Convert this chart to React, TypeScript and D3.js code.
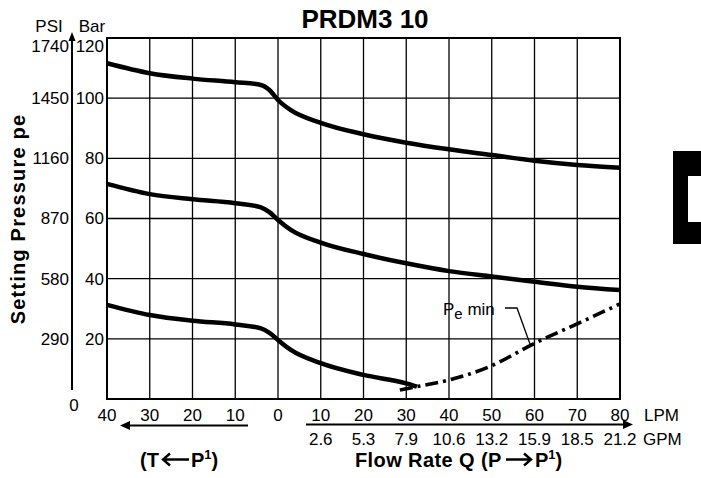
import React from 'react';
import * as d3 from 'd3';

// ---- data ----
const flowTicks = [-40, -30, -20, -10, 0, 10, 20, 30, 40, 50, 60, 70, 80];
const gpmFlows = [10, 20, 30, 40, 50, 60, 70, 80];
const gpmLabels = ['2.6', '5.3', '7.9', '10.6', '13.2', '15.9', '18.5', '21.2'];
const barTicks = [20, 40, 60, 80, 100, 120];
const psiLabels = ['290', '580', '870', '1160', '1450', '1740'];

const curveFlow = [-40, -30, -20, -10, -4, -2, 0, 3, 10, 20, 30, 40, 50, 60, 70, 80];
const topCurve = [111.6, 108.3, 106.5, 105.3, 104.4, 102.7, 99.4, 96.0, 91.8, 88.0, 85.2, 83.0, 81.1, 79.2, 77.8, 76.9];
const midCurve = [71.5, 68.1, 66.4, 65.1, 63.7, 62.1, 59.5, 56.2, 52.0, 48.2, 45.1, 42.5, 40.7, 39.0, 37.3, 36.2];
const lowFlow = [-40, -30, -20, -10, -4, -2, 0, 3, 10, 20, 30, 32.5];
const lowCurve = [31.3, 27.9, 26.0, 24.8, 23.5, 22.0, 19.6, 16.3, 11.9, 8.0, 5.2, 4.1];
const peMinFlow = [28.5, 32, 34.4, 40, 50, 60, 70, 80];
const peMinVals = [3.0, 4.0, 4.65, 6.3, 11.1, 18.5, 25.0, 31.6];

const FONT = "'Liberation Sans', Arial, Helvetica, sans-serif";

export default function App() {
  const W = 701, H = 478;
  const left = 107, right = 620, top = 38, bottom = 399;
  const x = d3.scaleLinear().domain([-40, 80]).range([left, right]);
  const y = d3.scaleLinear().domain([0, 120]).range([bottom, top]);

  const line = d3.line<[number, number]>()
    .x(d => x(d[0]))
    .y(d => y(d[1]))
    .curve(d3.curveMonotoneX);

  const zip = (xs: number[], ys: number[]) => xs.map((v, i) => [v, ys[i]] as [number, number]);

  const psiX = 72;
  const fs = 17;

  return (
    <svg width={W} height={H} style={{ position: 'absolute', left: 0, top: 0, background: '#fff' }}
      fontFamily={FONT}>
      <rect width={W} height={H} fill="#fff" />
      {/* title */}
      <text x={365} y={28} textAnchor="middle" fontSize={26} fontWeight="bold">PRDM3 10</text>

      {/* grid */}
      {flowTicks.map(t => (
        <line key={'vx' + t} x1={x(t)} x2={x(t)} y1={top} y2={bottom} stroke="#000" strokeWidth={1.3} />
      ))}
      {barTicks.map(t => (
        <line key={'hy' + t} x1={left} x2={right} y1={y(t)} y2={y(t)} stroke="#000" strokeWidth={1.3} />
      ))}
      <rect x={left} y={top} width={right - left} height={bottom - top} fill="none" stroke="#000" strokeWidth={2} />

      {/* curves */}
      {[zip(curveFlow, topCurve), zip(curveFlow, midCurve), zip(lowFlow, lowCurve)].map((d, i) => (
        <path key={'c' + i} d={line(d) || ''} fill="none" stroke="#000" strokeWidth={4.5} strokeLinecap="butt" />
      ))}
      <path d={line(zip(peMinFlow, peMinVals)) || ''} fill="none" stroke="#000" strokeWidth={3.6}
        strokeDasharray="13 5 3 5" />

      {/* Pe min label */}
      <text x={443} y={315} fontSize={17}>P<tspan fontSize={15} dy={4}>e</tspan><tspan dy={-4}> min</tspan></text>
      <polyline points="505,308 517,308 530,344" fill="none" stroke="#000" strokeWidth={1.3} />

      {/* Bar labels */}
      {barTicks.map(t => (
        <text key={'bl' + t} x={104} y={y(t) + (t === 120 ? 8 : 0)} dy="0.35em" textAnchor="end" fontSize={fs}>{t}</text>
      ))}
      {/* PSI labels */}
      {barTicks.map((t, i) => (
        <text key={'pl' + t} x={69} y={y(t) + (t === 120 ? 8 : 0)} dy="0.35em" textAnchor="end" fontSize={fs}>{psiLabels[i]}</text>
      ))}
      <text x={74} y={405} dy="0.35em" textAnchor="middle" fontSize={fs}>0</text>
      <line x1={psiX} x2={psiX} y1={390} y2={38} stroke="#000" strokeWidth={2} />
      <path d={`M${psiX},32 L${psiX - 3.5},41 L${psiX + 3.5},41 Z`} fill="#000" />
      <text x={49} y={26} dy="0.35em" textAnchor="middle" fontSize={fs}>PSI</text>
      <text x={92} y={26} dy="0.35em" textAnchor="middle" fontSize={fs}>Bar</text>

      {/* y title */}
      <text transform="translate(25,219) rotate(-90)" textAnchor="middle" fontSize={20} fontWeight="bold"
        letterSpacing={1.2}>Setting Pressure pe</text>

      {/* x tick labels */}
      {flowTicks.map(t => (
        <text key={'xl' + t} x={x(t)} y={415} dy="0.35em" textAnchor="middle" fontSize={fs}>{Math.abs(t)}</text>
      ))}
      <text x={644} y={415} dy="0.35em" fontSize={fs}>LPM</text>
      {gpmFlows.map((f, i) => (
        <text key={'gl' + f} x={x(f)} y={439} dy="0.35em" textAnchor="middle" fontSize={fs}>{gpmLabels[i]}</text>
      ))}
      <text x={643} y={439} dy="0.35em" fontSize={fs}>GPM</text>

      {/* arrows under axis */}
      <line x1={126} x2={248} y1={425.5} y2={425.5} stroke="#000" strokeWidth={2} />
      <path d="M120,425.5 L130,421 L130,430 Z" fill="#000" />
      <line x1={306} x2={626} y1={424.5} y2={424.5} stroke="#000" strokeWidth={2} />
      <path d="M633,424.5 L623,420 L623,429 Z" fill="#000" />

      {/* bottom titles */}
      <g fontSize={20} fontWeight="bold">
        <text x={140} y={467}>(T</text>
        <path d="M163,459.5 L189,459.5 M170,453.5 L163,459.5 L170,465.5" fill="none" stroke="#000" strokeWidth={2.4} />
        <text x={191} y={467}>P<tspan fontSize={13} dy={-8}>1</tspan><tspan dy={8}>)</tspan></text>

        <text x={355} y={467} letterSpacing={0.4}>Flow Rate Q (P</text>
        <path d="M506,459.5 L531,459.5 M524,453.5 L531,459.5 L524,465.5" fill="none" stroke="#000" strokeWidth={2.4} />
        <text x={535} y={467}>P<tspan fontSize={13} dy={-8}>1</tspan><tspan dy={8}>)</tspan></text>
      </g>

      {/* right bracket */}
      <path d="M673,151 L701,151 L701,176 L688,176 L688,222 L701,222 L701,244 L673,244 Z" fill="#000" />
    </svg>
  );
}
